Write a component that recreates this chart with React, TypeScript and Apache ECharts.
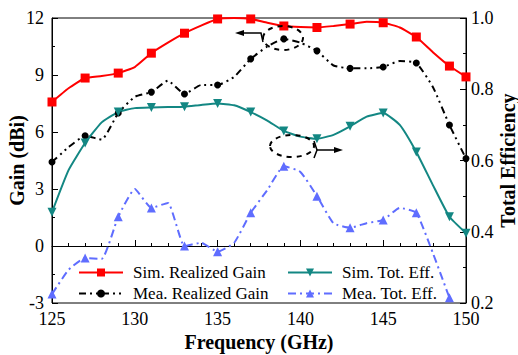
import React, { useEffect, useRef } from "react";
import * as echarts from "echarts";

const freqs = [125,126,127,128,129,130,131,132,133,134,135,136,137,138,139,140,141,142,143,144,145,146,147,148,149,150];
const simGain = [7.58,8.3,8.84,8.95,9.1,9.42,10.15,10.7,11.2,11.6,11.95,12.0,11.95,11.75,11.58,11.52,11.5,11.58,11.68,11.8,11.75,11.5,11.0,10.2,9.47,8.9];
const meaGain = [4.42,5.2,5.8,5.6,7.0,7.85,8.1,8.7,8.0,8.47,8.47,8.9,9.85,10.5,10.9,10.7,10.27,9.5,9.35,9.35,9.42,9.74,9.63,8.37,6.37,4.6];
const simEff = [0.455,0.573,0.649,0.707,0.736,0.747,0.749,0.75,0.751,0.756,0.76,0.755,0.736,0.712,0.683,0.667,0.661,0.672,0.696,0.723,0.733,0.7,0.624,0.531,0.442,0.396];
const meaEff = [0.225,0.293,0.326,0.324,0.442,0.52,0.467,0.481,0.36,0.369,0.344,0.369,0.453,0.517,0.584,0.568,0.5,0.424,0.411,0.424,0.433,0.467,0.453,0.34,0.215,0.1];
const gainTicks = [-3, 12, 3];
const effTicks = [0.2, 1.0, 0.2];

const FONT = "Liberation Serif";

export default function App() {
  const ref = useRef<HTMLDivElement>(null);
  useEffect(() => {
    if (!ref.current) return;
    const chart = echarts.init(ref.current, null, { renderer: "svg" });
    const pair = (ys: number[]) => freqs.map((f, i) => [f, ys[i]]);
    const symSize = (s: number) => (_v: any, p: any) =>
      p && (p.dataIndex % 2 === 0 || p.dataIndex === freqs.length - 1) ? s : 0;
    const nameStyle = () => ({ color: "#000", fontFamily: FONT, fontSize: 20, fontWeight: "bold" });
    const line = () => ({ show: true, lineStyle: { color: "#000", width: 1 } });
    const tick = () => ({ show: true, inside: true, length: 6, lineStyle: { color: "#000" } });
    const minor = (n: number) => ({ show: true, splitNumber: n, length: 3, lineStyle: { color: "#000" } });
    const lab = (m: number) => ({ color: "#000", fontFamily: FONT, fontSize: 18, margin: m });
    chart.setOption({
      animation: false,
      grid: {
        left: 52, right: 52, top: 18, bottom: 52, containLabel: false, outerBoundsMode: "none",
        show: true, borderColor: "#000", borderWidth: 1, backgroundColor: "transparent",
      },
      xAxis: {
        type: "value", min: 125, max: 150, interval: 5,
        name: "Frequency (GHz)", nameLocation: "middle", nameGap: 29, nameMoveOverlap: false,
        nameTextStyle: nameStyle(),
        axisLine: line(), axisTick: tick(), minorTick: minor(5), splitLine: { show: false },
        axisLabel: lab(7),
      },
      yAxis: [
        {
          type: "value", min: gainTicks[0], max: gainTicks[1], interval: gainTicks[2],
          name: "Gain (dBi)", nameLocation: "middle", nameGap: 25, nameMoveOverlap: false,
          nameTextStyle: nameStyle(),
          axisLine: line(), axisTick: tick(), minorTick: minor(2), splitLine: { show: false },
          axisLabel: lab(8),
        },
        {
          type: "value", min: effTicks[0], max: effTicks[1], interval: effTicks[2], position: "right",
          name: "Total Efficiency", nameLocation: "middle", nameGap: 32, nameMoveOverlap: false,
          nameTextStyle: nameStyle(),
          axisLine: line(), axisTick: tick(), minorTick: minor(2), splitLine: { show: false },
          axisLabel: { ...lab(5), formatter: (v: number) => v.toFixed(1) },
        },
      ],
      legend: [
        {
          left: 73, top: 259, orient: "vertical", itemWidth: 44, itemHeight: 10, itemGap: 4,
          textStyle: { color: "#000", fontFamily: FONT, fontSize: 17, padding: [0, 0, 0, 5] },
          data: ["Sim. Realized Gain", "Mea. Realized Gain"],
        },
        {
          left: 282, top: 259, orient: "vertical", itemWidth: 44, itemHeight: 10, itemGap: 4,
          textStyle: { color: "#000", fontFamily: FONT, fontSize: 17, padding: [0, 0, 0, 5] },
          data: ["Sim. Tot. Eff.", "Mea. Tot. Eff."],
        },
      ],
      series: [
        {
          name: "Sim. Realized Gain", type: "line", yAxisIndex: 0, data: pair(simGain),
          smooth: 0.15, symbol: "rect", symbolSize: symSize(9),
          lineStyle: { color: "#ff0000", width: 2 }, itemStyle: { color: "#ff0000" },
        },
        {
          name: "Mea. Realized Gain", type: "line", yAxisIndex: 0, data: pair(meaGain),
          smooth: 0.15, symbol: "circle", symbolSize: symSize(7),
          lineStyle: { color: "#000", width: 2, type: [7, 4, 2, 4, 2, 4] }, itemStyle: { color: "#000" },
        },
        {
          name: "Sim. Tot. Eff.", type: "line", yAxisIndex: 1, data: pair(simEff),
          smooth: 0.15, symbol: "triangle", symbolRotate: 180, symbolSize: symSize(9),
          lineStyle: { color: "#138783", width: 2 }, itemStyle: { color: "#138783" },
        },
        {
          name: "Mea. Tot. Eff.", type: "line", yAxisIndex: 1, data: pair(meaEff),
          smooth: 0.15, symbol: "triangle", symbolSize: symSize(9),
          lineStyle: { color: "#5f6dff", width: 2, type: [8, 4, 2, 4] }, itemStyle: { color: "#5f6dff" },
        },
      ],
      graphic: [
        { type: "ellipse", shape: { cx: 283, cy: 38, rx: 20, ry: 12 }, style: { fill: "none", stroke: "#000", lineWidth: 2, lineDash: [5, 5] }, z: 100 },
        { type: "polyline", shape: { points: [[263, 42], [261, 33], [242, 33]] }, style: { stroke: "#000", lineWidth: 1.5, fill: "none" }, z: 100 },
        { type: "polygon", shape: { points: [[235, 33], [244, 30], [244, 36]] }, style: { fill: "#000" }, z: 100 },
        { type: "ellipse", shape: { cx: 292, cy: 146, rx: 22, ry: 11 }, style: { fill: "none", stroke: "#000", lineWidth: 2, lineDash: [5, 5] }, z: 100 },
        { type: "polyline", shape: { points: [[314, 141], [317, 150], [314, 158]] }, style: { stroke: "#000", lineWidth: 1.5, fill: "none" }, z: 100 },
        { type: "line", shape: { x1: 317, y1: 150, x2: 336, y2: 150 }, style: { stroke: "#000", lineWidth: 1.5 }, z: 100 },
        { type: "polygon", shape: { points: [[343, 150], [334, 147], [334, 153]] }, style: { fill: "#000" }, z: 100 },
      ],
    });
    return () => chart.dispose();
  }, []);
  return <div ref={ref} style={{ width: 518, height: 355, position: "absolute", left: 0, top: 0 }} />;
}
